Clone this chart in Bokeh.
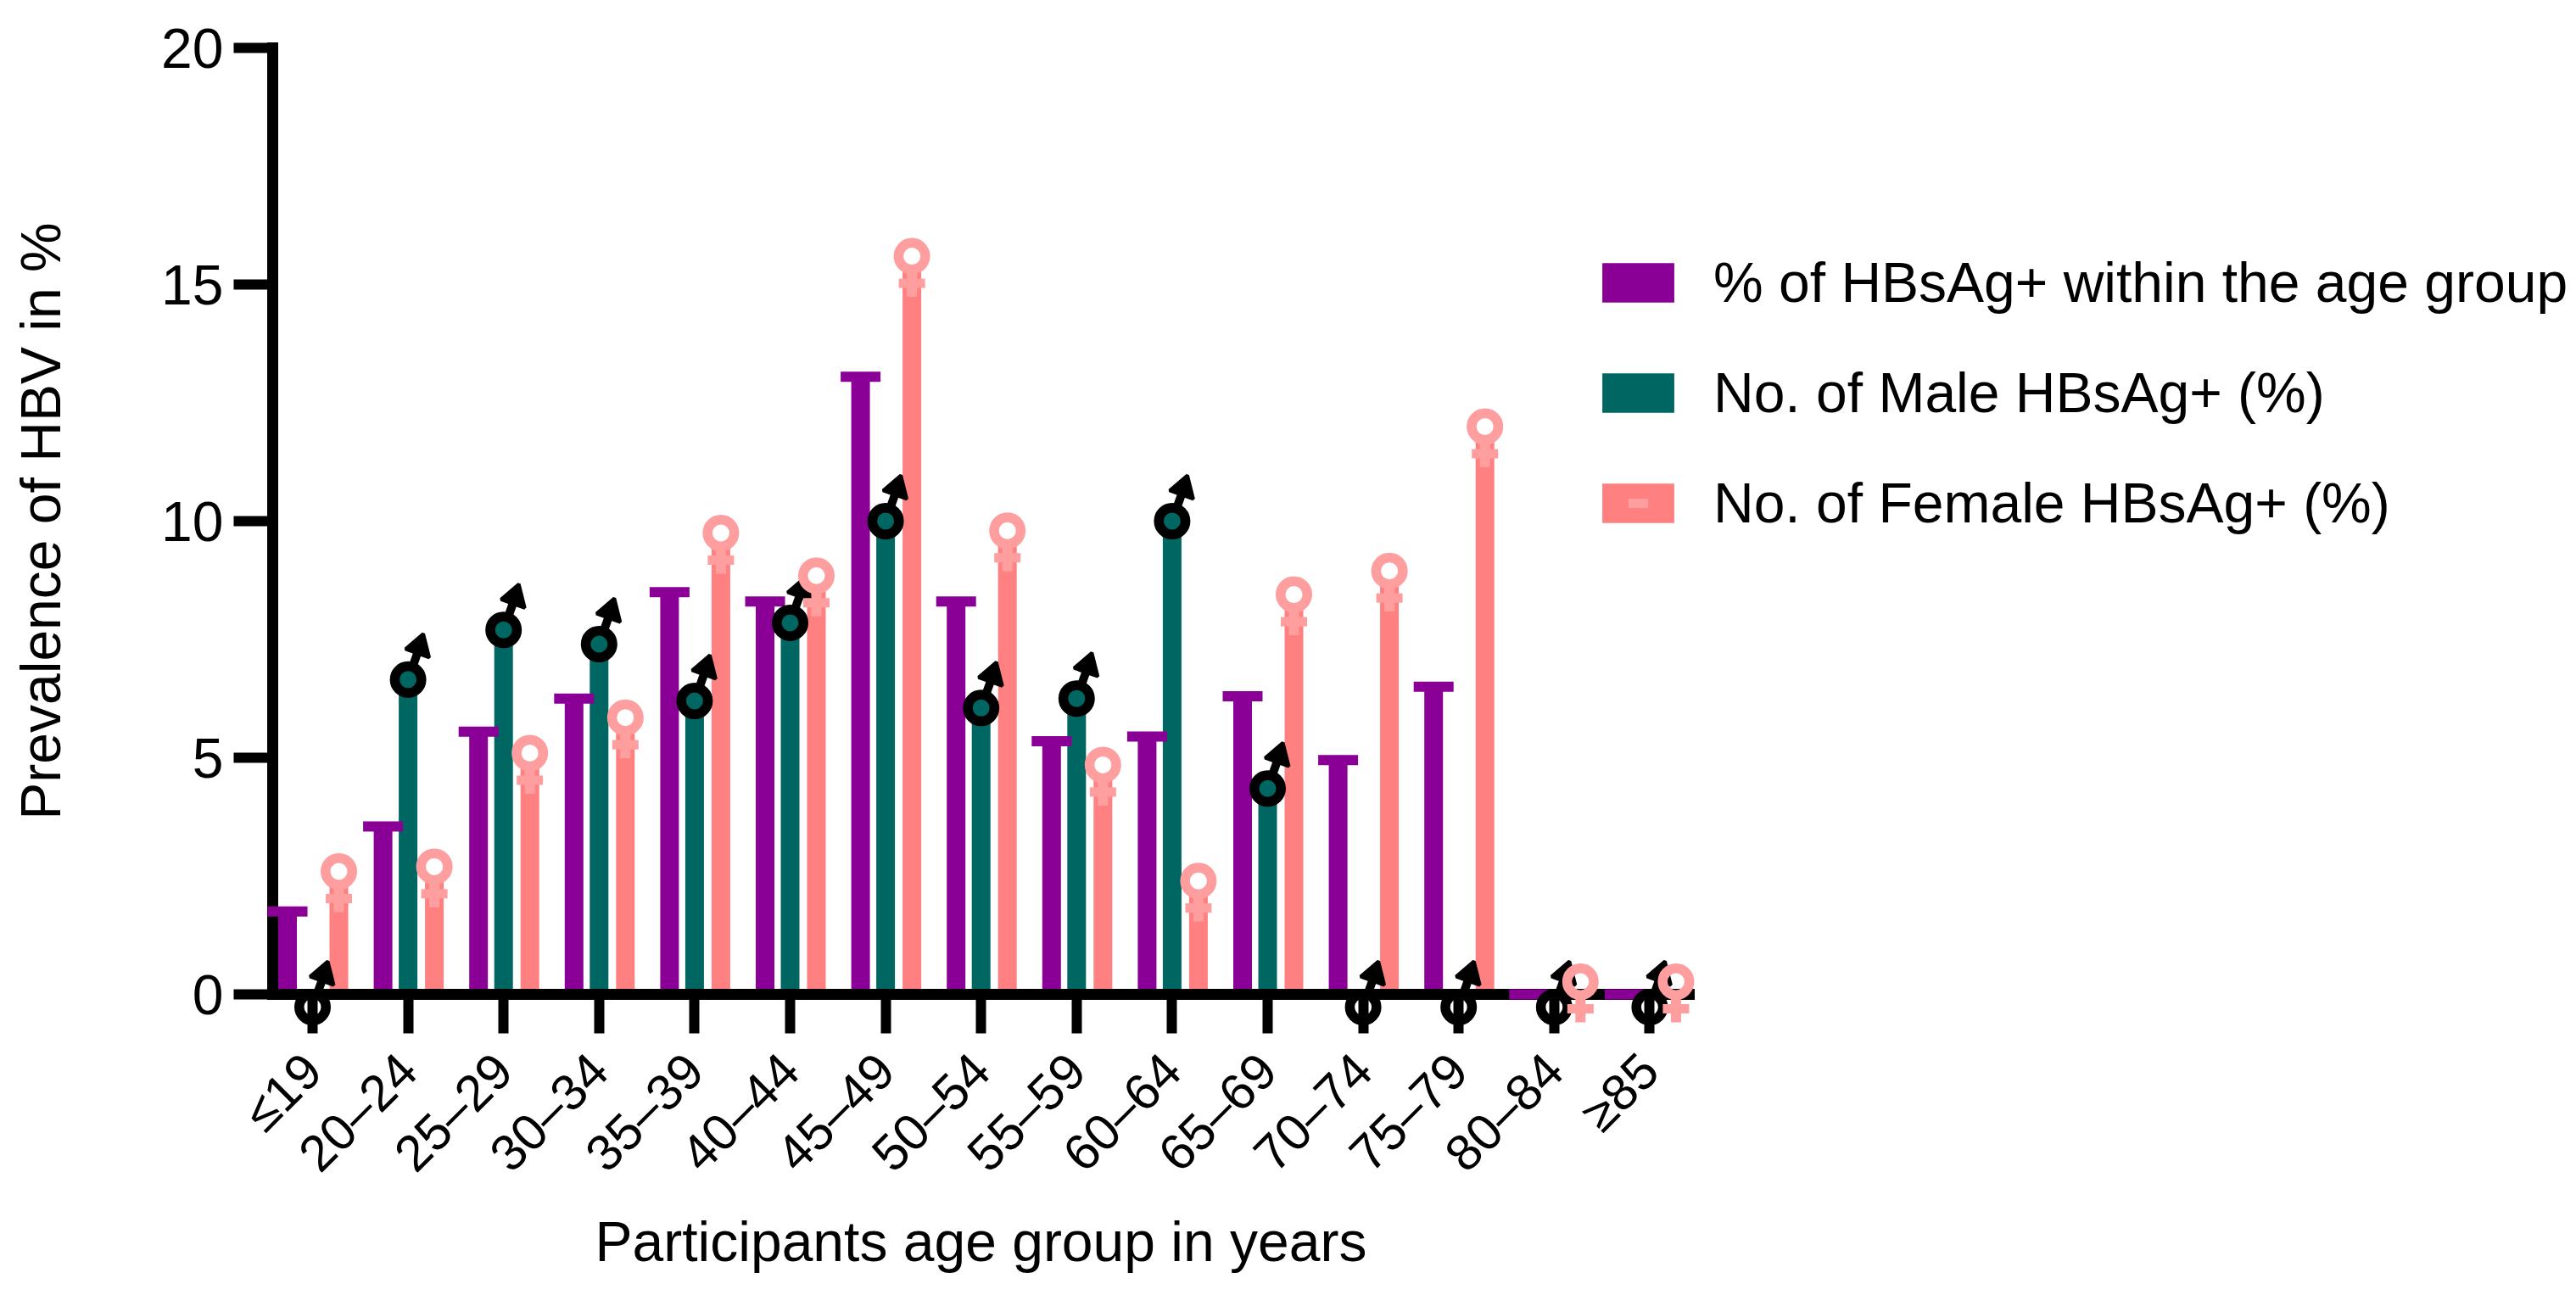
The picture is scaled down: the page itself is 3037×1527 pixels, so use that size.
from bokeh.embed import file_html
from bokeh.resources import INLINE
from bokeh.plotting import figure
from bokeh.models import FixedTicker, Legend, LegendItem, Range1d
import math

ages = ["≤19", "20–24", "25–29", "30–34", "35–39", "40–44", "45–49", "50–54",
        "55–59", "60–64", "65–69", "70–74", "75–79", "80–84", "≥85"]
overall = [1.75, 3.55, 5.55, 6.25, 8.5, 8.3, 13.05, 8.3, 5.35, 5.45, 6.3, 4.95, 6.5, 0, 0]
male = [0, 6.92, 7.97, 7.67, 6.47, 8.12, 10.27, 6.32, 6.52, 10.27, 4.62, 0, 0, 0, 0]
female = [2.33, 2.43, 4.83, 5.58, 9.48, 8.58, 15.33, 9.53, 4.58, 2.13, 8.18, 8.68, 11.73, 0, 0]
y_ticks = [0, 5, 10, 15, 20]

PURPLE, TEAL, SALMON, PINK = "#8A0097", "#006662", "#FF8080", "#FF9E9E"
FS = "66px"
FONT = "Liberation Sans"

# image-pixel geometry of the plot scales
UX, UY = 112.6, 55.8      # pixels per unit
X0, Y0 = 368.0, 1172.0    # pixel of x=0, y=0
W, H = 3029, 1519

dx = lambda px: px / UX
dy = lambda px: px / UY
n = len(ages)
xs = list(range(n))

p = figure(output_backend="svg", toolbar_location=None,
           width=W, height=H,
           min_border=0,
           x_range=Range1d(-X0 / UX, (W - X0) / UX),
           y_range=Range1d((Y0 - H) / UY, Y0 / UY),
           outline_line_color=None, background_fill_color=None, border_fill_color=None)
p.grid.visible = False

ax_left = (321 - X0) / UX
ax_right = (1991 - X0) / UX

xa = p.xaxis[0]
xa.fixed_location = 0
xa.bounds = (ax_left, ax_right)
xa.ticker = FixedTicker(ticks=xs)
xa.major_label_overrides = {i: a for i, a in enumerate(ages)}
xa.major_label_orientation = math.pi / 4
xa.axis_label = "Participants age group in years"

ya = p.yaxis[0]
ya.fixed_location = ax_left
ya.bounds = (0, 20)
ya.ticker = FixedTicker(ticks=y_ticks)
ya.axis_label = "Prevalence of HBV in %"

for a in (xa, ya):
    a.axis_line_width = 13
    a.axis_line_cap = "square"
    a.axis_line_color = "black"
    a.major_tick_line_width = 12
    a.major_tick_line_color = "black"
    a.major_tick_in = 0
    a.major_tick_out = 46
    a.minor_tick_line_color = None
    a.major_label_text_font = FONT
    a.major_label_text_font_size = FS
    a.major_label_text_color = "black"
    a.axis_label_text_font = FONT
    a.axis_label_text_font_size = FS
    a.axis_label_text_font_style = "normal"
    a.axis_label_text_color = "black"
xa.major_label_text_font_size = "60px"
xa.major_label_standoff = 34
xa.axis_label_standoff = 6
ya.major_label_standoff = 12
ya.axis_label_standoff = 102

BW = 22 / UX
xp = [x - dx(29.5) for x in xs]
xm = xs
xf = [x + dx(31) for x in xs]

r_p = p.vbar(x=xp, top=overall, bottom=0, width=BW, fill_color=PURPLE, line_color=None)
r_m = p.vbar(x=xm, top=male, bottom=0, width=BW, fill_color=TEAL, line_color=None)
r_f = p.vbar(x=xf, top=female, bottom=0, width=BW, fill_color=SALMON, line_color=None)

# purple cap
p.segment(x0=[x - dx(23.5) for x in xp], x1=[x + dx(23.5) for x in xp], y0=overall, y1=overall,
          line_color=PURPLE, line_width=12, level="overlay")

# male symbols
rc = [v - dy(15) for v in male]
p.segment(x0=[x + dx(6) for x in xm], y0=[v + dy(17) for v in rc],
          x1=[x + dx(12) for x in xm], y1=[v + dy(34) for v in rc],
          line_color="black", line_width=10, level="overlay")
p.patches(xs=[[x + dx(18), x + dx(-3), x + dx(25)] for x in xm],
          ys=[[v + dy(54), v + dy(36), v + dy(26)] for v in rc],
          fill_color="black", line_color="black", line_width=4, level="overlay")
p.scatter(x=xm, y=rc, marker="circle", size=31.5, line_width=11.5, fill_color=None,
          line_color="black", level="overlay")

# female symbols
fc = [v + dy(15) for v in female]
p.segment(x0=xf, x1=xf, y0=[v - dy(18) for v in fc], y1=[v - dy(48) for v in fc],
          line_color=PINK, line_width=12, level="overlay")
r_dash = p.scatter(x=xf, y=[v - dy(32) for v in fc], marker="dash", size=31, line_width=11,
                   line_color=PINK, level="overlay")
p.scatter(x=xf, y=fc, marker="circle", size=31.5, line_width=11.5, fill_color=None,
          line_color=PINK, level="overlay")

legend = Legend(items=[
    LegendItem(label="% of HBsAg+ within the age group", renderers=[r_p]),
    LegendItem(label="No. of Male HBsAg+ (%)", renderers=[r_m]),
    LegendItem(label="No. of Female HBsAg+ (%)", renderers=[r_f, r_dash]),
], location=(1878, H - 631), orientation="vertical",
    glyph_width=106, glyph_height=58, label_standoff=36, spacing=54, padding=0, margin=0,
    border_line_color=None, background_fill_color=None,
    label_text_font=FONT, label_text_font_size=FS, label_text_color="black",
    label_height=46, label_text_baseline="middle")
p.add_layout(legend, "center")

open("out.html", "w").write(file_html(p, INLINE))
